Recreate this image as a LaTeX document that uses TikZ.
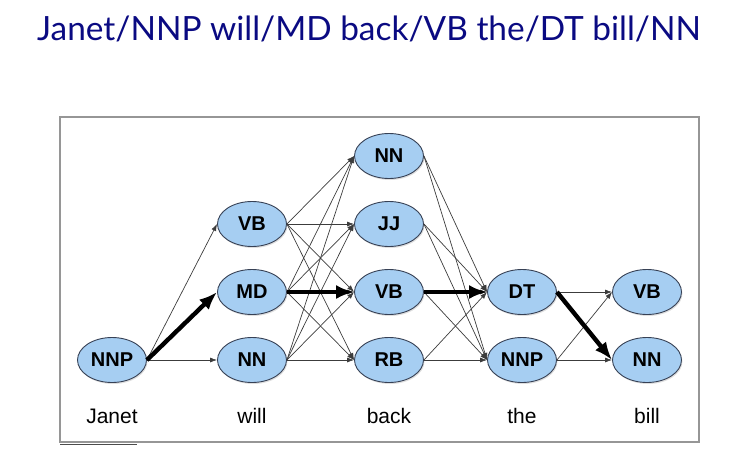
\documentclass[tikz,border=0pt]{standalone}
\usepackage{fontspec}
\setmainfont{Liberation Sans}
\newfontfamily\titlefont{Lato}
\usetikzlibrary{shapes.geometric,arrows.meta,shadows}
\definecolor{titleblue}{RGB}{10,10,130}
\definecolor{nodefill}{RGB}{166,206,242}
\definecolor{nodeborder}{RGB}{55,65,85}
\definecolor{framegray}{RGB}{150,150,150}
\definecolor{edgegray}{RGB}{60,60,60}
\begin{document}
\begin{tikzpicture}[x=1pt,y=-1pt,
  tag/.style={ellipse, draw=nodeborder, line width=0.9pt, fill=nodefill,
    minimum width=69pt, minimum height=45pt, inner sep=0pt,
    font=\fontsize{20}{20}\selectfont\bfseries,
    drop shadow={opacity=0.25,shadow xshift=1pt,shadow yshift=-1.5pt}},
  wordlbl/.style={anchor=base, font=\fontsize{21}{21}\selectfont},
  lattice/.style={-{Latex[length=7pt,width=5pt]}, draw=edgegray, line width=0.7pt},
  bestpath/.style={-{Latex[length=18pt,width=14pt]}, draw=black, line width=4.4pt}]
\useasboundingbox (0,0) rectangle (753,459);
% title
\node[anchor=base west, inner sep=0pt, font=\titlefont\fontsize{33.4}{33.4}\selectfont, text=titleblue] (title) at (37,40) {Janet/NNP will/MD back/VB the/DT bill/NN};
% frame
\draw[framegray, line width=1.2pt] (60,117) rectangle (699,442);
\draw[black!70, line width=0.8pt] (60,444) -- (137,444);
% nodes
\node[tag] (a1) at (112,360) {NNP};
\node[tag] (b1) at (252,224) {VB};
\node[tag] (b2) at (252,292) {MD};
\node[tag] (b3) at (252,360) {NN};
\node[tag] (c1) at (389,156) {NN};
\node[tag] (c2) at (389,224) {JJ};
\node[tag] (c3) at (389,292) {VB};
\node[tag] (c4) at (389,360) {RB};
\node[tag] (d1) at (522,292) {DT};
\node[tag] (d2) at (522,360) {NNP};
\node[tag] (e1) at (647,292) {VB};
\node[tag] (e2) at (647,360) {NN};
% words
\node[wordlbl] (w1) at (112,423) {Janet};
\node[wordlbl] (w2) at (252,423) {will};
\node[wordlbl] (w3) at (389,423) {back};
\node[wordlbl] (w4) at (522,423) {the};
\node[wordlbl] (w5) at (647,423) {bill};
% edges
\draw[lattice] (a1.east) -- (b1.west);
\draw[lattice] (a1.east) -- (b3.west);
\foreach \s in {b1,b2,b3}
  \foreach \t in {c1,c2,c3,c4}
    \draw[lattice] (\s.east) -- (\t.west);
\foreach \s in {c1,c2,c3,c4}
  \foreach \t in {d1,d2}
    \draw[lattice] (\s.east) -- (\t.west);
\draw[lattice] (d1.east) -- (e1.west);
\draw[lattice] (d2.east) -- (e1.west);
\draw[lattice] (d2.east) -- (e2.west);
% best path
\draw[bestpath] (a1.east) -- (b2.west);
\draw[bestpath] (b2.east) -- (c3.west);
\draw[bestpath] (c3.east) -- (d1.west);
\draw[bestpath] (d1.east) -- (e2.west);
\end{tikzpicture}
\end{document}
